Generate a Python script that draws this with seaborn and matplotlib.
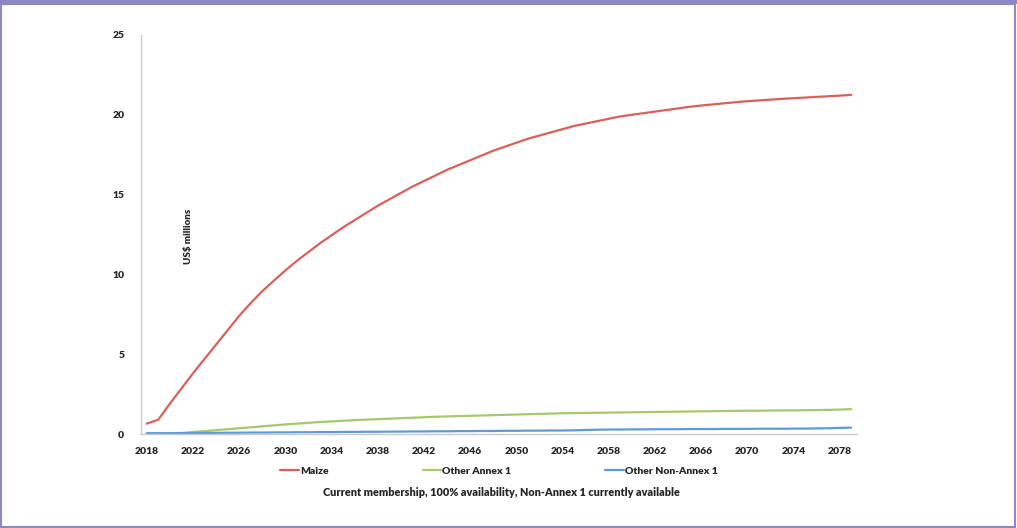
import numpy as np
import pandas as pd
import matplotlib
matplotlib.use('Agg')
import matplotlib.pyplot as plt
from matplotlib.patches import Rectangle
from matplotlib.ticker import MultipleLocator
import seaborn as sns

# Data (US$ millions)
years = list(range(2018, 2080))

maize = [0.65, 0.9, 1.9, 2.85, 3.8, 4.7, 5.6, 6.5, 7.4, 8.2,
         8.95, 9.6, 10.25, 10.85, 11.4, 11.95, 12.45, 12.95, 13.4, 13.85,
         14.3, 14.7, 15.1, 15.5, 15.85, 16.2, 16.55, 16.85, 17.15, 17.45,
         17.75, 18.0, 18.25, 18.5, 18.7, 18.9, 19.1, 19.3, 19.45, 19.6,
         19.75, 19.9, 20.0, 20.1, 20.2, 20.3, 20.4, 20.5, 20.58, 20.65,
         20.72, 20.79, 20.85, 20.9, 20.95, 21.0, 21.04, 21.08, 21.12, 21.16,
         21.2, 21.25]

other_annex1 = [0.02, 0.02, 0.03, 0.06, 0.12, 0.18, 0.24, 0.3, 0.36, 0.42,
                0.48, 0.54, 0.6, 0.65, 0.7, 0.75, 0.79, 0.83, 0.87, 0.9,
                0.93, 0.96, 0.99, 1.02, 1.05, 1.08, 1.1, 1.12, 1.14, 1.16,
                1.18, 1.2, 1.22, 1.24, 1.26, 1.28, 1.3, 1.31, 1.32, 1.33,
                1.34, 1.35, 1.36, 1.37, 1.38, 1.39, 1.4, 1.41, 1.42, 1.43,
                1.44, 1.45, 1.46, 1.46, 1.47, 1.48, 1.48, 1.49, 1.5, 1.51,
                1.53, 1.56]

other_non_annex1 = [0.05, 0.05, 0.05, 0.06, 0.06, 0.07, 0.07, 0.08, 0.08, 0.09,
                    0.09, 0.1, 0.1, 0.11, 0.11, 0.12, 0.12, 0.13, 0.13, 0.14,
                    0.14, 0.15, 0.15, 0.16, 0.16, 0.17, 0.17, 0.18, 0.18, 0.19,
                    0.19, 0.2, 0.2, 0.21, 0.21, 0.22, 0.22, 0.23, 0.25, 0.27,
                    0.28, 0.28, 0.29, 0.29, 0.3, 0.3, 0.3, 0.31, 0.31, 0.31,
                    0.32, 0.32, 0.32, 0.33, 0.33, 0.33, 0.34, 0.34, 0.35, 0.36,
                    0.38, 0.4]

series_names = ['Maize', 'Other Annex 1', 'Other Non-Annex 1']
colors = ['#d9605a', '#a6c86c', '#5e9bd6']

df = pd.DataFrame({
    'Year': years * 3,
    'Value': maize + other_annex1 + other_non_annex1,
    'Series': [s for s in series_names for _ in years],
})

sns.set_style('white')
plt.rcParams['font.family'] = ['Lato', 'DejaVu Sans']
W = 'heavy'

fig = plt.figure(figsize=(10.17, 5.28), dpi=100)
ax = fig.add_axes([141 / 1017, 94 / 528, 716 / 1017, 399 / 528])

sns.lineplot(data=df, x='Year', y='Value', hue='Series', hue_order=series_names,
             palette=colors, linewidth=1.6, ax=ax)

ax.set_xlim(2017.5, 2079.5)
ax.set_ylim(0, 25)
ax.set_xticks(list(range(2018, 2080, 4)))
ax.set_xticks(np.arange(2017.5, 2080, 1), minor=True)
ax.yaxis.set_major_locator(MultipleLocator(5))

for side in ['top', 'right']:
    ax.spines[side].set_visible(False)
ax.spines['left'].set_color('#dcc8c8')
ax.spines['bottom'].set_color('#c8c8d0')
ax.spines['left'].set_linewidth(1.0)
ax.spines['bottom'].set_linewidth(1.0)

ax.tick_params(axis='x', which='major', length=0, pad=9, labelsize=7.5)
ax.tick_params(axis='x', which='minor', length=3, direction='out', color='#c8c8d0')
ax.tick_params(axis='y', length=3, direction='out', color='#dcc8c8', pad=9, labelsize=7.5)
for lab in ax.get_xticklabels() + ax.get_yticklabels():
    lab.set_fontweight(W)

ax.set_xlabel('')
ax.set_ylabel('')
ax.text(2021.6, 12.4, 'US$ millions', rotation=90, ha='center', va='center',
        fontsize=7, fontweight=W)

handles, labels = ax.get_legend_handles_labels()
fig.legend(handles, labels, loc='center', bbox_to_anchor=(499 / 1017, 1 - 471 / 528),
           ncol=3, frameon=False, handlelength=1.8,
           handletextpad=0.1, columnspacing=9.0, prop={'weight': W, 'size': 7.5})
ax.get_legend().remove()

fig.text(501 / 1017, 1 - 492 / 528, 'Current membership, 100% availability, Non-Annex 1 currently available',
         ha='center', va='center', fontsize=7.8, fontweight=W)

# frame around the figure
border = '#8b88c6'
fig.add_artist(Rectangle((0.001, 0.002), 0.997, 0.99, transform=fig.transFigure,
                         fill=False, edgecolor=border, linewidth=1.5))
fig.add_artist(Rectangle((0, 0.992), 1, 0.008, transform=fig.transFigure,
                         facecolor=border, edgecolor='none'))

fig.savefig('out.png', dpi=100)
